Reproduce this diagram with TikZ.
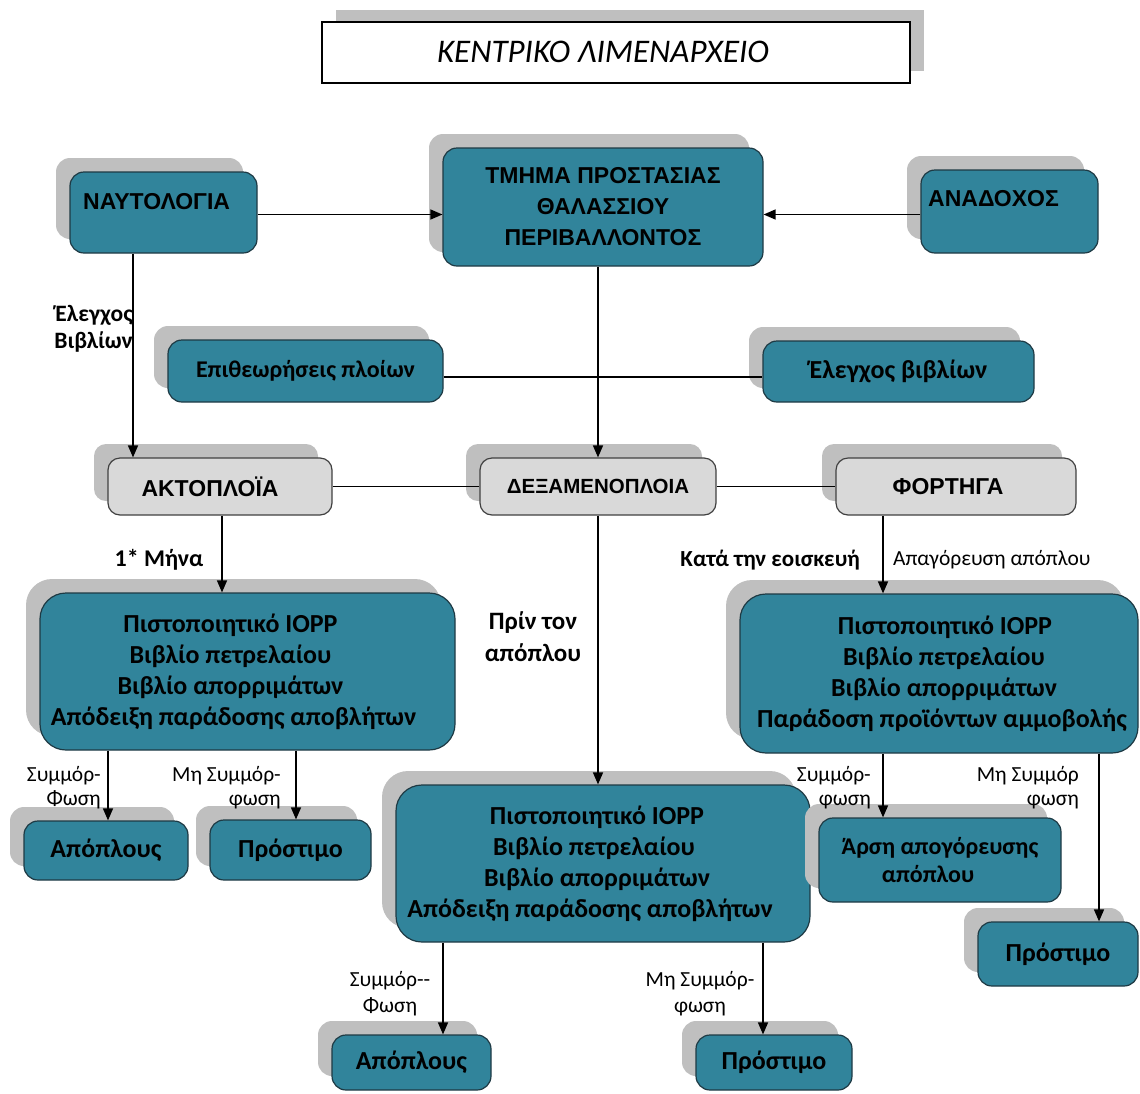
\documentclass[tikz,border=0pt]{standalone}
\usepackage{fontspec}
\setmainfont{Carlito}
\newfontfamily\arialf{Liberation Sans}
\usetikzlibrary{shadows,arrows.meta}
\definecolor{tealfill}{HTML}{31849B}
\definecolor{shadowg}{HTML}{BFBFBF}
\definecolor{lgray}{HTML}{D9D9D9}
\definecolor{bord}{HTML}{1E3A44}
\newcommand\mylsh[1]{\hspace*{#1}}
\tikzset{
  shad/.style={drop shadow={shadow xshift=-14pt, shadow yshift=14pt, fill=shadowg, opacity=1}},
  tbox/.style={shad, draw=bord, line width=1.2pt, fill=tealfill, rounded corners=14pt, inner sep=0pt, align=center, text=black},
  gbox/.style={shad, draw=black!75, line width=1.2pt, fill=lgray, rounded corners=12pt, inner sep=0pt, align=center},
  bigbox/.style={tbox, rounded corners=26pt, font=\bfseries\fontsize{26}{31}\selectfont},
  captxt/.style={font=\arialf\bfseries\fontsize{23}{31}\selectfont},
  gtxt/.style={font=\bfseries\fontsize{26}{28}\selectfont},
  conn/.style={line width=1.4pt},
  arr/.style={conn, -{Triangle[length=12pt, width=10pt]}},
  blab/.style={inner sep=0pt, font=\bfseries\fontsize{24}{27}\selectfont},
  rlab/.style={inner sep=0pt, font=\fontsize{21.5}{24}\selectfont},
}
\begin{document}
\begin{tikzpicture}[x=1pt,y=-1pt]
\useasboundingbox (0,0) rectangle (1140,1093);
% title
\node[draw=black, line width=1.2pt, fill=white, minimum width=588pt, minimum height=61pt, inner sep=0pt,
  drop shadow={shadow xshift=14pt, shadow yshift=12pt, fill=shadowg, opacity=1}] (title) at (616,52.5) {};
\node[font=\itshape\fontsize{33}{36}\selectfont, inner sep=0pt] (titletxt) at (603,52) {ΚΕΝΤΡΙΚΟ ΛΙΜΕΝΑΡΧΕΙΟ};
% top row
\node[tbox, captxt, minimum width=320pt, minimum height=118pt] (tmhma) at (603,207)
  {ΤΜΗΜΑ ΠΡΟΣΤΑΣΙΑΣ\\ΘΑΛΑΣΣΙΟΥ\\ΠΕΡΙΒΑΛΛΟΝΤΟΣ};
\node[tbox, minimum width=187pt, minimum height=81pt] (naut) at (163.5,212.5) {};
\node[captxt, anchor=west, inner sep=0pt] (nautt) at (83,202) {ΝΑΥΤΟΛΟΓΙΑ};
\node[tbox, minimum width=177pt, minimum height=83pt] (anad) at (1009.5,211.5) {};
\node[captxt, anchor=west, inner sep=0pt] (anadt) at (928,199) {ΑΝΑΔΟΧΟΣ};
% second row
\node[tbox, gtxt, font=\bfseries\fontsize{24}{28}\selectfont, minimum width=275pt, minimum height=62pt] (epith) at (305.5,371) {Επιθεωρήσεις πλοίων};
\node[tbox, gtxt, minimum width=271pt, minimum height=61pt] (elegx) at (898.5,371.5) {Έλεγχος βιβλίων};
% grey row
\node[gbox, captxt, minimum width=224pt, minimum height=57pt] (akto) at (220,486.5) {\hspace*{-20pt}ΑΚΤΟΠΛΟΪΑ};
\node[gbox, captxt, font=\arialf\bfseries\fontsize{20.5}{22}\selectfont, minimum width=236pt, minimum height=57pt] (dex) at (598,486.5) {ΔΕΞΑΜΕΝΟΠΛΟΙΑ};
\node[gbox, captxt, minimum width=240pt, minimum height=57pt] (fort) at (956,486.5) {\hspace*{-16pt}ΦΟΡΤΗΓΑ};
% big boxes
\node[bigbox, minimum width=415pt, minimum height=157pt] (bigL) at (247.5,671.5)
  {\mylsh{-34pt}Πιστοποιητικό IOPP\\\mylsh{-34pt}Βιβλίο πετρελαίου\\\mylsh{-34pt}Βιβλίο απορριμάτων\\\mylsh{-28pt}Απόδειξη παράδοσης αποβλήτων};
\node[bigbox, minimum width=398pt, minimum height=159pt] (bigR) at (939,673.5)
  {\mylsh{12pt}Πιστοποιητικό IOPP\\\mylsh{10pt}Βιβλίο πετρελαίου\\\mylsh{10pt}Βιβλίο απορριμάτων\\\mylsh{6pt}Παράδοση προϊόντων αμμοβολής};
\node[bigbox, minimum width=414pt, minimum height=157pt] (bigM) at (603,863.5)
  {\mylsh{-12pt}Πιστοποιητικό IOPP\\\mylsh{-18pt}Βιβλίο πετρελαίου\\\mylsh{-12pt}Βιβλίο απορριμάτων\\\mylsh{-26pt}Απόδειξη παράδοσης αποβλήτων};
% leaf boxes
\node[tbox, gtxt, minimum width=164pt, minimum height=59pt] (apL) at (106,850.5) {Απόπλους};
\node[tbox, gtxt, minimum width=161pt, minimum height=60pt] (prL) at (290.5,850) {Πρόστιμο};
\node[tbox, gtxt, font=\bfseries\fontsize{24}{28}\selectfont, minimum width=242pt, minimum height=84pt] (arsi) at (940,860) {Άρση απογόρευσης\\\mylsh{-24pt}απόπλου};
\node[tbox, gtxt, minimum width=160pt, minimum height=64pt] (prR) at (1058,954) {Πρόστιμο};
\node[tbox, gtxt, minimum width=159pt, minimum height=55pt] (apB) at (411.5,1062.5) {Απόπλους};
\node[tbox, gtxt, minimum width=156pt, minimum height=55pt] (prB) at (774,1062.5) {Πρόστιμο};
% connectors
\draw[arr] ([yshift=-2pt]naut.east) -- ([yshift=-2pt]naut.east -| tmhma.west);
\draw[arr] ([yshift=-3pt]anad.west) -- ([yshift=-3pt]anad.west -| tmhma.east);
\draw[arr] ([xshift=-30.5pt]naut.south) -- ([xshift=-30.5pt]naut.south |- akto.north);
\draw[arr] (dex.north |- tmhma.south) -- (dex.north);
\draw[conn] ([yshift=-6pt]epith.east) -- ([yshift=-6pt]epith.east -| elegx.west);
\draw[conn] (akto.east) -- (dex.west);
\draw[conn] (dex.east) -- (fort.west);
\draw[arr] ([xshift=2pt]akto.south) -- ([xshift=2pt]akto.south |- bigL.north);
\draw[arr] ([xshift=-73pt]fort.south) -- ([xshift=-73pt]fort.south |- bigR.north);
\draw[arr] (dex.south) -- (dex.south |- bigM.north);
\draw[arr] ([xshift=2pt]apL.north |- bigL.south) -- ([xshift=2pt]apL.north);
\draw[arr] ([xshift=5.5pt]prL.north |- bigL.south) -- ([xshift=5.5pt]prL.north);
\draw[arr] ([xshift=-57pt]arsi.north |- bigR.south) -- ([xshift=-57pt]arsi.north);
\draw[arr] ([xshift=41pt]prR.north |- bigR.south) -- ([xshift=41pt]prR.north);
\draw[arr] ([xshift=31.5pt]apB.north |- bigM.south) -- ([xshift=31.5pt]apB.north);
\draw[arr] ([xshift=-11pt]prB.north |- bigM.south) -- ([xshift=-11pt]prB.north);
% labels
\node[blab, align=right, anchor=east, font=\bfseries\fontsize{23.5}{27}\selectfont] (l1) at (133,329) {Έλεγχος\\Βιβλίων};
\node[blab] (l2) at (159,560) {1* Μήνα};
\node[blab, align=center, font=\bfseries\fontsize{25}{32}\selectfont] (l3) at (533,637) {Πρίν τον\\απόπλου};
\node[blab, anchor=east, font=\bfseries\fontsize{23}{27}\selectfont] (l4) at (860,560) {Κατά την εοισκευή};
\node[rlab, anchor=west] (l5) at (893,560) {Απαγόρευση απόπλου};
\node[rlab, align=right, anchor=east] (l6) at (101,788) {Συμμόρ-\\Φωση};
\node[rlab, align=right, anchor=east] (l7) at (281,788) {Μη Συμμόρ-\\φωση};
\node[rlab, align=right, anchor=east] (l8) at (871,788) {Συμμόρ-\\φωση};
\node[rlab, align=right, anchor=east] (l9) at (1079,788) {Μη Συμμόρ\\φωση};
\node[rlab, align=center, font=\fontsize{21.5}{26}\selectfont] (l10) at (390,994) {Συμμόρ{-}{-}\\Φωση};
\node[rlab, align=center, font=\fontsize{21.5}{26}\selectfont] (l11) at (700,994) {Μη Συμμόρ-\\φωση};
\end{tikzpicture}
\end{document}
